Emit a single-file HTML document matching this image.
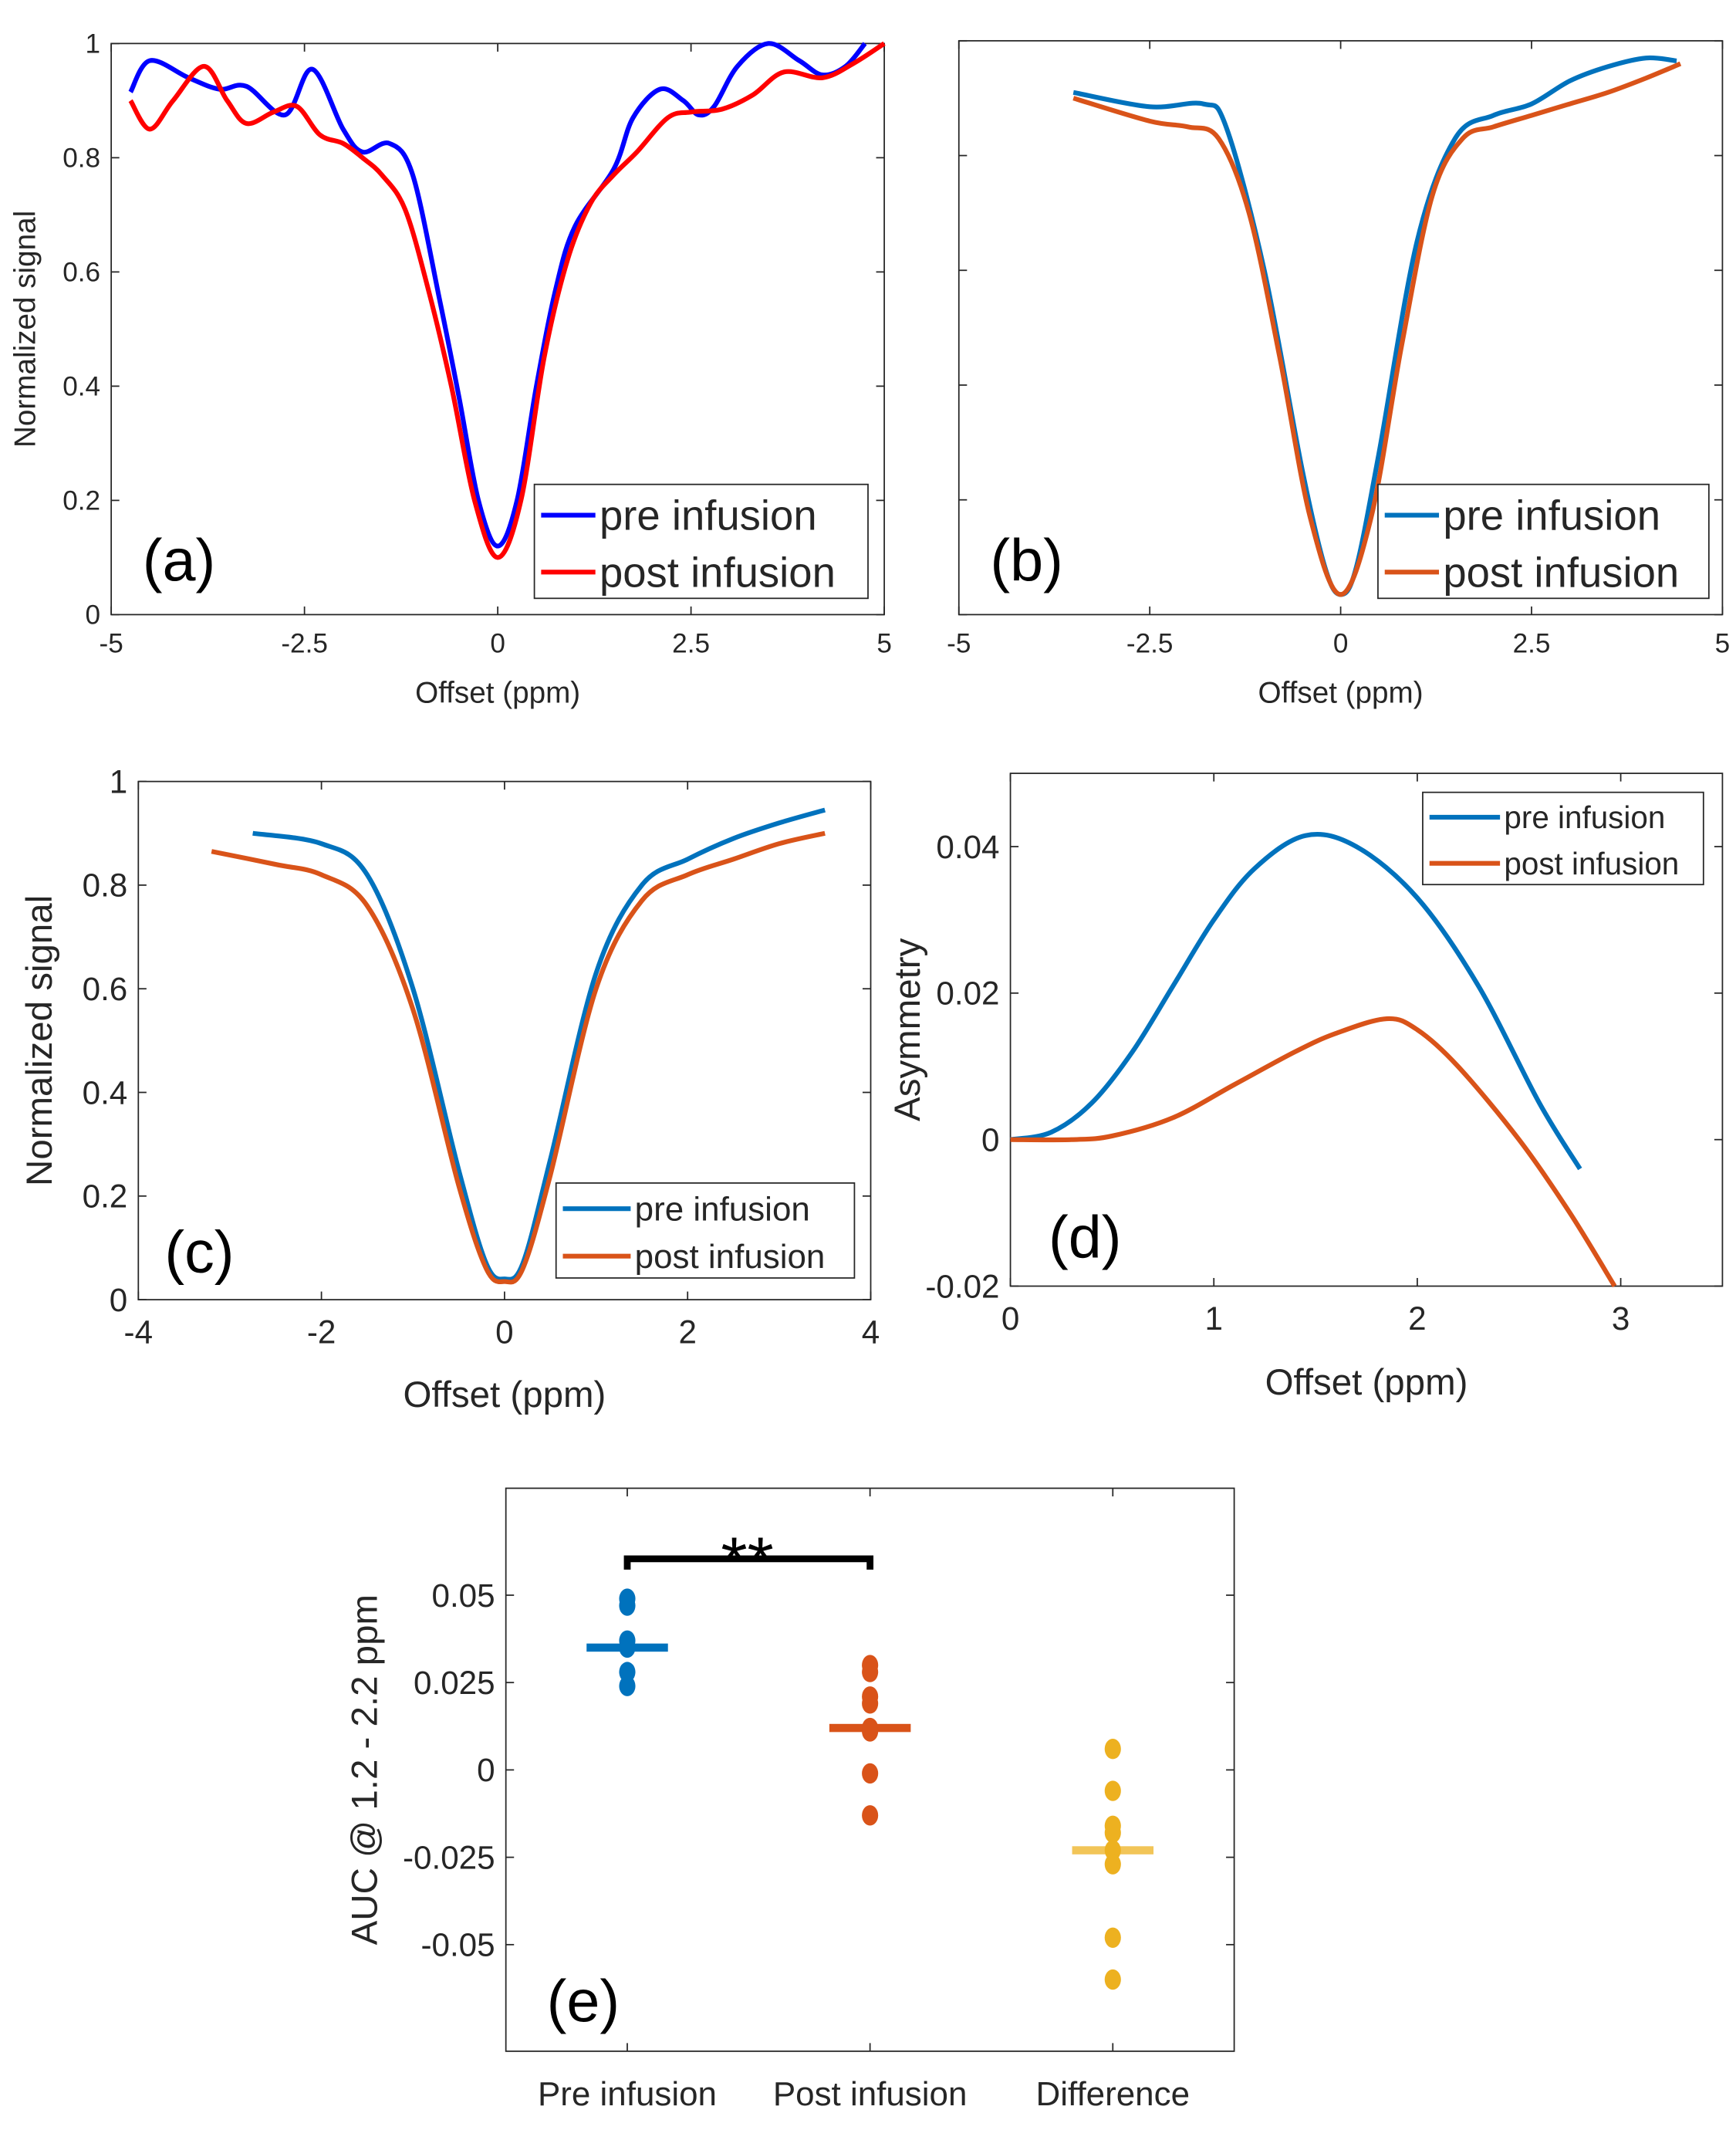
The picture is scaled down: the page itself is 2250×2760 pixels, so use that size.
<!DOCTYPE html>
<html><head><meta charset="utf-8">
<style>
html,body{margin:0;padding:0;background:#fff;}
svg{display:block;}
text{font-family:"Liberation Sans",sans-serif;fill:#262626;}
</style></head>
<body>
<svg id="fig" width="2250" height="2760" viewBox="0 0 1280 1570" xmlns="http://www.w3.org/2000/svg"></svg>
<script>
// ---------- Data ----------
const aPreX=[-4.75,-4.5,-4,-3.6,-3.25,-2.75,-2.4,-2,-1.75,-1.4,-1.1,-0.75,-0.5,-0.25,0,0.25,0.5,0.75,1,1.5,1.75,2.1,2.4,2.6,2.8,3.1,3.5,3.9,4.2,4.5,4.75];
const aPreY=[0.915,0.97,0.94,0.92,0.925,0.875,0.955,0.85,0.81,0.825,0.77,0.55,0.38,0.2,0.12,0.2,0.4,0.57,0.68,0.78,0.87,0.92,0.9,0.875,0.89,0.96,1.0,0.97,0.945,0.96,1.0];
const aPostX=[-4.75,-4.5,-4.2,-3.8,-3.5,-3.25,-2.9,-2.6,-2.3,-2,-1.75,-1.5,-1.2,-0.9,-0.6,-0.3,0,0.3,0.6,0.9,1.2,1.5,1.8,2.2,2.5,2.9,3.3,3.7,4.2,4.6,5];
const aPostY=[0.9,0.85,0.9,0.96,0.9,0.86,0.88,0.89,0.84,0.825,0.8,0.77,0.71,0.57,0.4,0.2,0.1,0.2,0.45,0.62,0.72,0.77,0.81,0.87,0.88,0.885,0.91,0.95,0.94,0.965,1.0];
const bPreX=[-3.5,-2.5,-1.8,-1.5,-1,-0.5,-0.2,0,0.2,0.5,1,1.5,2,2.5,3,3.5,4,4.4];
const bPreY=[0.91,0.885,0.89,0.85,0.6,0.25,0.08,0.035,0.08,0.28,0.65,0.83,0.87,0.89,0.93,0.955,0.97,0.965];
const bPostX=[-3.5,-2.5,-2,-1.6,-1.2,-0.8,-0.4,0,0.4,0.8,1.2,1.6,2,2.5,3,3.5,4,4.45];
const bPostY=[0.9,0.86,0.85,0.83,0.7,0.45,0.17,0.035,0.17,0.47,0.73,0.83,0.85,0.87,0.89,0.91,0.935,0.96];
const cPreX=[-2.75,-2,-1.5,-1,-0.5,-0.2,0,0.2,0.5,1,1.5,2,2.5,3,3.5];
const cPreY=[0.9,0.88,0.82,0.6,0.25,0.07,0.04,0.07,0.27,0.63,0.8,0.85,0.89,0.92,0.945];
const cPostX=[-3.2,-2.5,-2,-1.5,-1,-0.5,-0.2,0,0.2,0.5,1,1.5,2,2.5,3,3.5];
const cPostY=[0.865,0.84,0.82,0.76,0.56,0.22,0.06,0.035,0.06,0.24,0.6,0.77,0.82,0.85,0.88,0.9];
const dPreX=[0,0.2,0.4,0.6,0.8,1.0,1.2,1.45,1.7,2.0,2.3,2.6,2.8];
const dPreY=[0,0.001,0.005,0.012,0.021,0.03,0.037,0.0415,0.04,0.033,0.021,0.005,-0.004];
const dPostX=[0,0.3,0.5,0.8,1.1,1.4,1.6,1.85,2.0,2.2,2.5,2.75,2.97];
const dPostY=[0,0,0.0005,0.003,0.0075,0.012,0.0145,0.0165,0.015,0.01,0,-0.01,-0.02];
const eCategories=["Pre infusion","Post infusion","Difference"];
const ePre=[0.049,0.047,0.037,0.035,0.028,0.024];
const ePost=[0.030,0.028,0.021,0.019,0.012,0.011,-0.001,-0.013];
const eDiff=[0.006,-0.006,-0.016,-0.018,-0.023,-0.027,-0.048,-0.060];
const eMeans=[0.035,0.012,-0.023];
const xTicksA=[-5,-2.5,0,2.5,5];
const yTicksA=[0,0.2,0.4,0.6,0.8,1];
const xTicksC=[-4,-2,0,2,4];
const xTicksD=[0,1,2,3];
const yTicksD=[-0.02,0,0.02,0.04];
const yTicksE=[-0.05,-0.025,0,0.025,0.05];

// ---------- Helpers ----------
const svg=document.getElementById('fig');
const NS="http://www.w3.org/2000/svg";
function mk(tag,attrs,parent){const e=document.createElementNS(NS,tag);for(const k in attrs)e.setAttribute(k,attrs[k]);(parent||svg).appendChild(e);return e;}
function txt(s,x,y,size,anchor,parent,extra){const t=mk('text',Object.assign({x:x,y:y,'font-size':size,'text-anchor':anchor||'middle'},extra||{}),parent);t.textContent=s;return t;}
function lin(d0,d1,r0,r1){return v=>r0+(v-d0)/(d1-d0)*(r1-r0);}
function smoothPath(pts){let d="M"+pts[0][0]+","+pts[0][1];for(let i=0;i<pts.length-1;i++){const p0=pts[i-1]||pts[i],p1=pts[i],p2=pts[i+1],p3=pts[i+2]||p2;const c1=[p1[0]+(p2[0]-p0[0])/6,p1[1]+(p2[1]-p0[1])/6],c2=[p2[0]-(p3[0]-p1[0])/6,p2[1]-(p3[1]-p1[1])/6];d+=" C"+c1[0].toFixed(2)+","+c1[1].toFixed(2)+" "+c2[0].toFixed(2)+","+c2[1].toFixed(2)+" "+p2[0].toFixed(2)+","+p2[1].toFixed(2);}return d;}

function panel(o){
  const g=mk('g',{});
  
  
  const sx=lin(o.xd[0],o.xd[1],o.x0,o.x1), sy=lin(o.yd[0],o.yd[1],o.y1,o.y0);
  const box=mk('rect',{x:o.x0,y:o.y0,width:o.x1-o.x0,height:o.y1-o.y0,fill:'#fff',stroke:'#262626','stroke-width':1},g);
  
  
  (o.xt||[]).forEach(v=>{const X=sx(v);mk('line',{x1:X,x2:X,y1:o.y1,y2:o.y1-6,stroke:'#262626'},g);mk('line',{x1:X,x2:X,y1:o.y0,y2:o.y0+6,stroke:'#262626'},g);
    if(o.xl!==false){const t=txt(String(v),X,o.y1+o.tf+8,o.tf,'middle',g);}});
  (o.yt||[]).forEach(v=>{const Y=sy(v);mk('line',{x1:o.x0,x2:o.x0+6,y1:Y,y2:Y,stroke:'#262626'},g);mk('line',{x1:o.x1,x2:o.x1-6,y1:Y,y2:Y,stroke:'#262626'},g);
    if(o.yl!==false){const t=txt(String(v),o.x0-8,Y+o.tf*0.35,o.tf,'end',g);}});
  if(o.xlabel){const t=txt(o.xlabel,(o.x0+o.x1)/2,o.xlabY,o.lf,'middle',g);}
  if(o.ylabel){const t=txt(o.ylabel,0,0,o.lf,'middle',g,{transform:`translate(${o.ylabX},${(o.y0+o.y1)/2}) rotate(-90)`});}
  (o.series||[]).forEach(s=>{const pts=s.x.map((xv,i)=>[sx(xv),sy(s.y[i])]);const p=mk('path',{d:smoothPath(pts),fill:'none',stroke:s.c,'stroke-width':o.lw,'stroke-linejoin':'round'},g);});
  if(o.legend){const L=o.legend;const lg=mk('g',{},g);
    mk('rect',{x:L.x,y:L.y,width:L.w,height:L.h,fill:'#fff',stroke:'#262626','stroke-width':1},lg);
    o.series.forEach((s,i)=>{const yy=L.y+L.h*(0.27+0.5*i);mk('line',{x1:L.x+5,x2:L.x+5+L.ll,y1:yy,y2:yy,stroke:s.c,'stroke-width':o.lw},lg);
      const t=txt(s.label,L.x+8+L.ll,yy+L.fs*0.35,L.fs,'start',lg);});}
  if(o.tag){const t=txt(o.tag[0],o.tag[1],o.tag[2],44,'middle',g,{style:'fill:#000'});}
  return {g,sx,sy};
}

const BLUE='#0072BD',ORANGE='#D95319',YEL='#EDB120';

panel({name:'panel-a',x0:82,x1:652,y0:32,y1:453,xd:[-5,5],yd:[0,1],xt:xTicksA,yt:yTicksA,tf:20,lf:22,lw:3.5,
  xlabel:'Offset (ppm)',xlabY:518,ylabel:'Normalized signal',ylabX:26,tag:['(a)',132,428],
  series:[{name:'pre-infusion-line',label:'pre infusion',x:aPreX,y:aPreY,c:'#0000FF'},{name:'post-infusion-line',label:'post infusion',x:aPostX,y:aPostY,c:'#FF0000'}],
  legend:{x:394,y:357,w:246,h:84,ll:40,fs:31}});
panel({name:'panel-b',x0:707,x1:1270,y0:30,y1:453,xd:[-5,5],yd:[0,1],xt:xTicksA,yt:yTicksA,yl:false,tf:20,lf:22,lw:3.5,
  xlabel:'Offset (ppm)',xlabY:518,tag:['(b)',757,428],
  series:[{name:'pre-infusion-line',label:'pre infusion',x:bPreX,y:bPreY,c:BLUE},{name:'post-infusion-line',label:'post infusion',x:bPostX,y:bPostY,c:ORANGE}],
  legend:{x:1016,y:357,w:244,h:84,ll:40,fs:31}});
panel({name:'panel-c',x0:102,x1:642,y0:576,y1:958,xd:[-4,4],yd:[0,1],xt:xTicksC,yt:yTicksA,tf:24,lf:27,lw:3.5,
  xlabel:'Offset (ppm)',xlabY:1037,ylabel:'Normalized signal',ylabX:38,tag:['(c)',147,938],
  series:[{name:'pre-infusion-line',label:'pre infusion',x:cPreX,y:cPreY,c:BLUE},{name:'post-infusion-line',label:'post infusion',x:cPostX,y:cPostY,c:ORANGE}],
  legend:{x:410,y:872,w:220,h:70,ll:50,fs:25}});
panel({name:'panel-d',x0:745,x1:1270,y0:570,y1:948,xd:[0,3.5],yd:[-0.02,0.05],xt:xTicksD,yt:yTicksD,tf:24,lf:27,lw:3.5,
  xlabel:'Offset (ppm)',xlabY:1028,ylabel:'Asymmetry',ylabX:678,tag:['(d)',800,927],
  series:[{name:'pre-infusion-line',label:'pre infusion',x:dPreX,y:dPreY,c:BLUE},{name:'post-infusion-line',label:'post infusion',x:dPostX,y:dPostY,c:ORANGE}],
  legend:{x:1049,y:584,w:207,h:68,ll:52,fs:23}});
const E=panel({name:'panel-e',x0:373,x1:910,y0:1097,y1:1512,xd:[0.5,3.5],yd:[-0.0805,0.0806],xt:[1,2,3],xl:false,yt:yTicksE,tf:24,lf:27,lw:3,
  ylabel:'AUC @ 1.2 - 2.2 ppm',ylabX:278,tag:['(e)',430,1490]});
eCategories.forEach((c,i)=>{const t=txt(c,E.sx(i+1),1552,25,'middle',E.g);});
const groups=[ePre,ePost,eDiff],cols=[BLUE,ORANGE,YEL];
groups.forEach((arr,i)=>{
  const X=E.sx(i+1);
  const m=mk('rect',{x:X-30,y:E.sy(eMeans[i])-3,width:60,height:6,fill:cols[i],opacity:i==2?0.75:1},E.g);
  
  
  arr.forEach(v=>{const d=mk('ellipse',{cx:X,cy:E.sy(v),rx:6,ry:7.5,fill:cols[i]},E.g);
    
    });
});
const br=mk('path',{d:`M${E.sx(1)},1157 V1149 H${E.sx(2)} V1157`,fill:'none',stroke:'#000','stroke-width':5},E.g);


const st=txt('**',551,1168,50,'middle',E.g,{style:'fill:#000'});


</script>
</body></html>
